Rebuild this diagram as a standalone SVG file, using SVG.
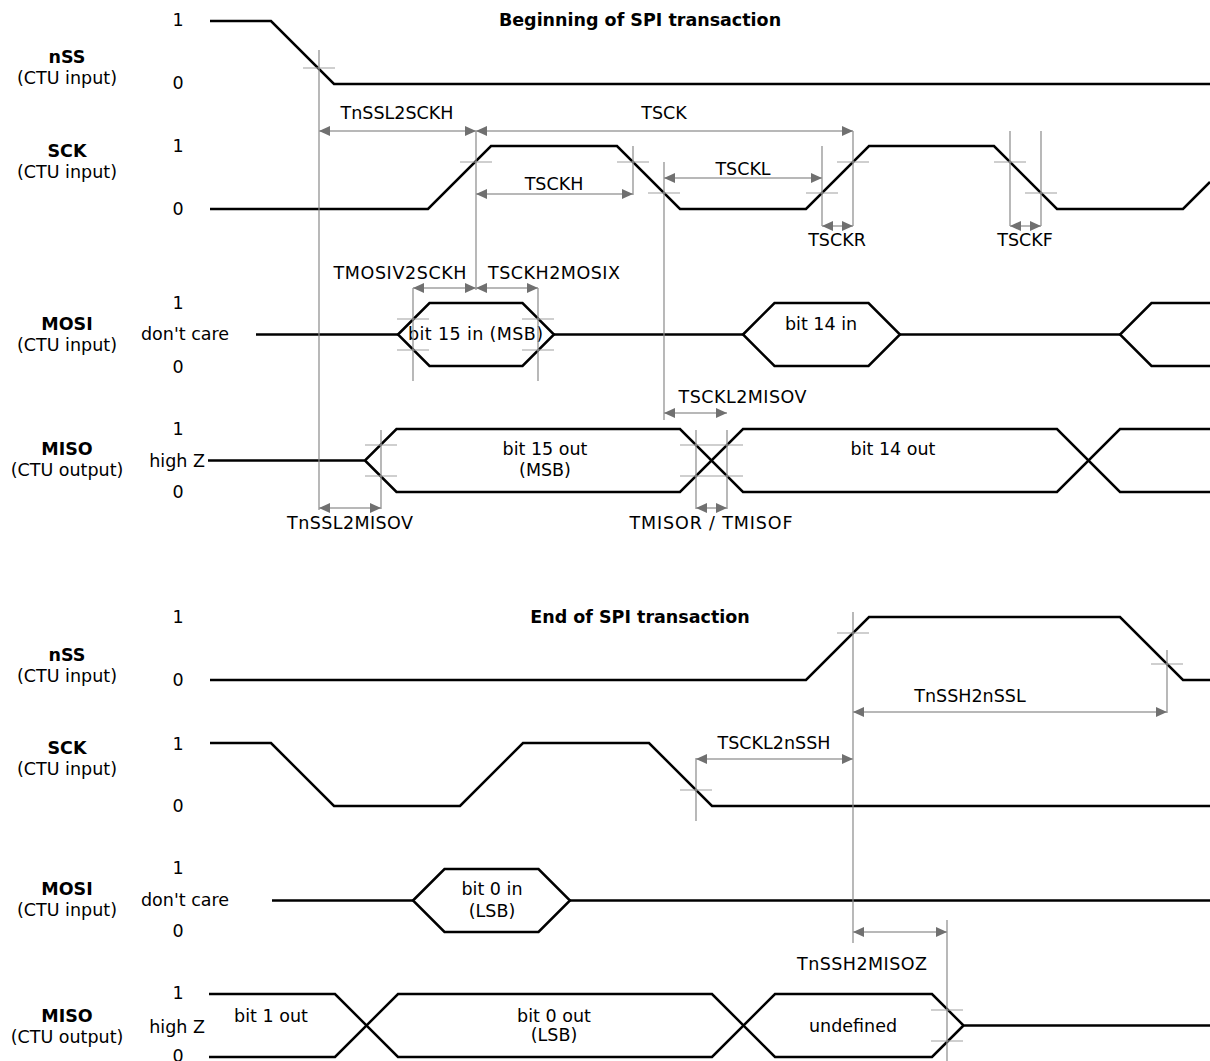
<svg xmlns="http://www.w3.org/2000/svg" width="1210" height="1061" viewBox="0 0 1210 1061">
  <style>
    text { font-family: "DejaVu Sans", Verdana, sans-serif; font-size: 17.5px; fill: #000; }
    .b { font-weight: bold; }
    .c { text-anchor: middle; }
    .e { text-anchor: end; }
    .sig { fill: none; stroke: #000; stroke-width: 2.5; stroke-linejoin: miter; }
    .guide { stroke: #8a8a8a; stroke-width: 1.2; fill: none; }
    .tick { stroke: #a0a0a0; stroke-width: 1.2; fill: none; }
    .dim { stroke: #a0a0a0; stroke-width: 1.5; fill: none; marker-start: url(#head); marker-end: url(#head); }
  </style>
  <defs>
    <marker id="head" markerUnits="userSpaceOnUse" markerWidth="12" markerHeight="10" refX="11" refY="5" orient="auto-start-reverse">
      <path d="M0,0 L11,5 L0,10 Z" fill="#707070"/>
    </marker>
  </defs>

  <rect width="1210" height="1061" fill="#fff"/>

  <!-- Beginning of transaction -->
  <text class="b c" x="640" y="25.5">Beginning of SPI transaction</text>

  <g id="nss-top">
    <text class="b c" x="67" y="63">nSS</text>
    <text class="c" x="67" y="84">(CTU input)</text>
    <text class="c" x="178" y="26">1</text>
    <text class="c" x="178" y="89">0</text>
    <path class="sig" d="M210,21 H271 L334,84 H1210"/>
  </g>

  <g id="sck-top">
    <text class="b c" x="67" y="157">SCK</text>
    <text class="c" x="67" y="178">(CTU input)</text>
    <text class="c" x="178" y="152">1</text>
    <text class="c" x="178" y="215">0</text>
    <path class="sig" d="M210,209 H428 L491,146 H617 L680,209 H806 L869,146 H994 L1057,209 H1183 L1210,182"/>
  </g>

  <g id="mosi-top">
    <text class="b c" x="67" y="330">MOSI</text>
    <text class="c" x="67" y="351">(CTU input)</text>
    <text class="c" x="178" y="309">1</text>
    <text x="141" y="340">don't care</text>
    <text class="c" x="178" y="373">0</text>
    <path class="sig" d="M256,334.5 H398 M554,334.5 H743 M900,334.5 H1120"/>
    <path class="sig" d="M398,334.5 L429.5,303 H522.5 L554,334.5 L522.5,366 H429.5 Z"/>
    <path class="sig" d="M743,334.5 L774.5,303 H868.5 L900,334.5 L868.5,366 H774.5 Z"/>
    <path class="sig" d="M1210,303 H1151.5 L1120,334.5 L1151.5,366 H1210"/>
    <text class="c" x="475.5" y="340" textLength="135" lengthAdjust="spacing">bit 15 in (MSB)</text>
    <text class="c" x="821" y="330">bit 14 in</text>
  </g>

  <g id="miso-top">
    <text class="b c" x="67" y="455">MISO</text>
    <text class="c" x="67" y="476">(CTU output)</text>
    <text class="c" x="178" y="435">1</text>
    <text class="e" x="205" y="467">high Z</text>
    <text class="c" x="178" y="498">0</text>
    <path class="sig" d="M208,460.5 H365 L396.5,429 H680 L743,492 H1057 L1120,429 H1210"/>
    <path class="sig" d="M365,460.5 L396.5,492 H680 L743,429 H1057 L1120,492 H1210"/>
    <text class="c" x="545" y="455">bit 15 out</text>
    <text class="c" x="545" y="476">(MSB)</text>
    <text class="c" x="893" y="455">bit 14 out</text>
  </g>

  <!-- End of transaction -->
  <text class="b c" x="640" y="623">End of SPI transaction</text>

  <g id="nss-bottom">
    <text class="b c" x="67" y="661">nSS</text>
    <text class="c" x="67" y="682">(CTU input)</text>
    <text class="c" x="178" y="623">1</text>
    <text class="c" x="178" y="686">0</text>
    <path class="sig" d="M210,680 H806 L869,617 H1120 L1183,680 H1210"/>
  </g>

  <g id="sck-bottom">
    <text class="b c" x="67" y="754">SCK</text>
    <text class="c" x="67" y="775">(CTU input)</text>
    <text class="c" x="178" y="750">1</text>
    <text class="c" x="178" y="812">0</text>
    <path class="sig" d="M210,743 H271 L334,806 H460 L523,743 H649 L712,806 H1210"/>
  </g>

  <g id="mosi-bottom">
    <text class="b c" x="67" y="895">MOSI</text>
    <text class="c" x="67" y="916">(CTU input)</text>
    <text class="c" x="178" y="874">1</text>
    <text x="141" y="906">don't care</text>
    <text class="c" x="178" y="937">0</text>
    <path class="sig" d="M272,900.5 H413 M570,900.5 H1210"/>
    <path class="sig" d="M413,900.5 L444.5,869 H538.5 L570,900.5 L538.5,932 H444.5 Z"/>
    <text class="c" x="492" y="895">bit 0 in</text>
    <text class="c" x="492" y="917">(LSB)</text>
  </g>

  <g id="miso-bottom">
    <text class="b c" x="67" y="1022">MISO</text>
    <text class="c" x="67" y="1043">(CTU output)</text>
    <text class="c" x="178" y="999">1</text>
    <text class="e" x="205" y="1033">high Z</text>
    <text class="c" x="178" y="1062">0</text>
    <path class="sig" d="M209,994 H335 L398,1057 H712 L775,994 H932 L963.5,1025.5 H1210"/>
    <path class="sig" d="M209,1057 H335 L398,994 H712 L775,1057 H932 L963.5,1025.5"/>
    <text class="c" x="271" y="1022">bit 1 out</text>
    <text class="c" x="554" y="1022">bit 0 out</text>
    <text class="c" x="554" y="1041">(LSB)</text>
    <text class="c" x="853" y="1032">undefined</text>
  </g>

  <!-- timing parameters: guides, edge marks, dimension arrows -->
  <g id="timing">
    <path class="guide" d="M319,50 V510 M476,131 V290 M633,146 V195 M664,162 V420 M822,146 V226 M853,131 V226 M1010,131 V226 M1041,131 V226 M413,288 V381 M538,288 V381 M381,430 V509 M696,430 V509 M727,430 V509"/>
    <path class="guide" d="M853,612 V943 M1167,650 V713 M696,758 V821 M947,920 V1061"/>

    <path class="tick" d="M303,68 H335 M460,162 H492 M617,162 H649 M648,193 H680 M806,193 H838 M837,162 H869 M994,162 H1026 M1025,193 H1057"/>
    <path class="tick" d="M397,319 H429 M397,350 H429 M522,319 H554 M522,350 H554"/>
    <path class="tick" d="M365,445 H397 M365,476 H397 M680,445 H743 M680,476 H743"/>
    <path class="tick" d="M837,633 H869 M1151,664 H1183 M680,790 H712 M931,1010 H963 M931,1041 H963"/>

    <path class="dim" d="M319,131 H476"/>
    <path class="dim" d="M476,131 H853"/>
    <path class="dim" d="M476,194 H633"/>
    <path class="dim" d="M664,178 H822"/>
    <path class="dim" d="M822,226 H853"/>
    <path class="dim" d="M1010,226 H1041"/>
    <path class="dim" d="M413,288 H476"/>
    <path class="dim" d="M476,288 H538"/>
    <path class="dim" d="M664,413 H727"/>
    <path class="dim" d="M319,508 H381"/>
    <path class="dim" d="M696,508 H727"/>
    <path class="dim" d="M853,712 H1167"/>
    <path class="dim" d="M696,759 H853"/>
    <path class="dim" d="M853,932 H947"/>

    <text class="c" x="397" y="119">TnSSL2SCKH</text>
    <text class="c" x="664" y="119">TSCK</text>
    <text class="c" x="554" y="190">TSCKH</text>
    <text class="c" x="743" y="174.5">TSCKL</text>
    <text class="c" x="837" y="246">TSCKR</text>
    <text class="c" x="1025" y="246">TSCKF</text>
    <text class="c" x="400" y="279" textLength="133" lengthAdjust="spacing">TMOSIV2SCKH</text>
    <text class="c" x="554" y="279" textLength="132" lengthAdjust="spacing">TSCKH2MOSIX</text>
    <text class="c" x="742.5" y="403" textLength="128" lengthAdjust="spacing">TSCKL2MISOV</text>
    <text class="c" x="350" y="529" textLength="126" lengthAdjust="spacing">TnSSL2MISOV</text>
    <text class="c" x="711" y="529" textLength="163" lengthAdjust="spacing">TMISOR / TMISOF</text>
    <text class="c" x="970" y="702">TnSSH2nSSL</text>
    <text class="c" x="774" y="749">TSCKL2nSSH</text>
    <text class="c" x="862" y="970" textLength="130" lengthAdjust="spacing">TnSSH2MISOZ</text>
  </g>
</svg>
